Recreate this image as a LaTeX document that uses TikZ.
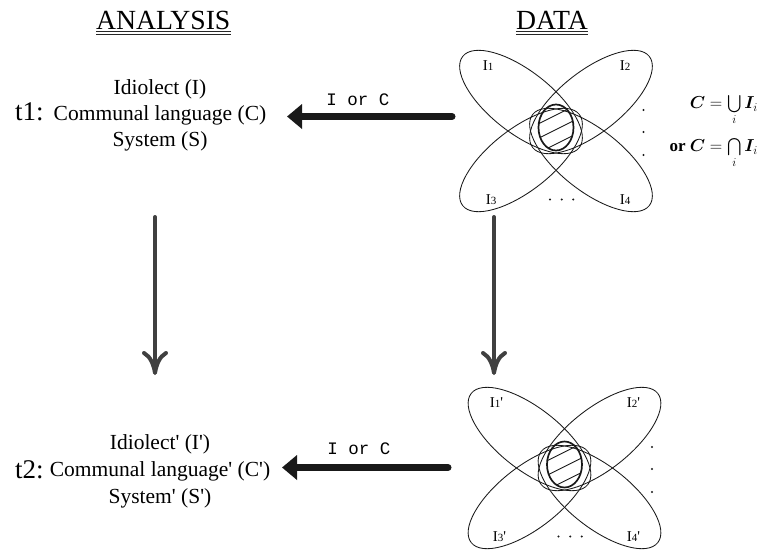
\documentclass[tikz,border=0pt]{standalone}
\usepackage{fontspec}
\setmainfont{Liberation Serif}
\setmonofont{Liberation Mono}
\usepackage{amsmath,bm}
\usetikzlibrary{arrows.meta}
\begin{document}
\begin{tikzpicture}[x=1pt,y=-1pt,
  hdr/.style={font=\fontsize{27.7}{30}\selectfont, inner sep=0pt, anchor=base},
  txt/.style={font=\fontsize{21.5}{26}\selectfont, inner sep=0pt, anchor=base},
  tlab/.style={font=\fontsize{27}{30}\selectfont, inner sep=0pt, anchor=base west},
  arrlab/.style={font=\ttfamily\fontsize{17.5}{20}\selectfont, inner sep=0pt, anchor=base},
  venn/.style={draw=black!90, line width=0.85pt},
  setlab/.style={font=\fontsize{15}{16}\selectfont, inner sep=0pt},
  hatchline/.style={draw=black!90, line width=0.9pt},
  hatchoval/.style={draw=black!90, line width=1.7pt},
  uline/.style={draw=black!85, line width=0.8pt},
  flowarrow/.style={draw=black!90, line width=7pt, line cap=round, -{Triangle[length=15pt,width=24pt]}},
  timearrow/.style={draw=black!75, line width=4pt, line cap=round, -{To[length=24pt,width=26pt,round]}},
  dotmark/.style={fill=black!90},
  formula/.style={font=\fontsize{17}{20}\selectfont, inner sep=0pt, anchor=base east}
]
\useasboundingbox (0,0) rectangle (761,550);

% headers
\node[hdr] (h1) at (163.3,29.3) {ANALYSIS};
\node[hdr] (h2) at (552,29.3) {DATA};
\draw[uline] ([yshift=-2.2pt]h1.base west) -- ([yshift=-2.2pt]h1.base east);
\draw[uline] ([yshift=-4.6pt]h1.base west) -- ([yshift=-4.6pt]h1.base east);
\draw[uline] ([yshift=-2.4pt]h2.base west) -- ([yshift=-2.4pt]h2.base east);
\draw[uline] ([yshift=-4.8pt]h2.base west) -- ([yshift=-4.8pt]h2.base east);

% t1 block
\node[txt] (t1I) at (160,94.3) {Idiolect (I)};
\node[txt] (t1C) at (160,120) {Communal language (C)};
\node[txt] (t1S) at (160,146.5) {System (S)};
\node[tlab] (t1) at (15,120) {t1:};

% t2 block
\node[txt] (t2I) at (160,449.3) {Idiolect\textquotesingle{} (I\textquotesingle)};
\node[txt] (t2C) at (160,476.7) {Communal language\textquotesingle{} (C\textquotesingle)};
\node[txt] (t2S) at (160,503.3) {System\textquotesingle{} (S\textquotesingle)};
\node[tlab] (t2) at (15,478) {t2:};

% horizontal arrows
\coordinate (hTs) at (452,116.5);
\coordinate (hTe) at (287,116.5);
\coordinate (hBs) at (448,467.5);
\coordinate (hBe) at (282,467.5);
\draw[flowarrow] (hTs) -- (hTe);
\draw[flowarrow] (hBs) -- (hBe);
\node[arrlab] (l1) at (358,105) {I or C};
\node[arrlab] (l2) at (359,454) {I or C};

% vertical arrows
\coordinate (vLs) at (155,217);
\coordinate (vLe) at (155,375);
\coordinate (vRs) at (494,217);
\coordinate (vRe) at (494,375);
\draw[timearrow] (vLs) -- (vLe);
\draw[timearrow] (vRs) -- (vRe);

% Venn diagrams
\foreach \dx/\dy/\p in {0/0/{}, 8.5/337/{\textquotesingle}}{
\begin{scope}[shift={(\dx,\dy)}]
  \draw[venn, rotate around={-38:(521,102)}] (521,102) ellipse [x radius=74pt, y radius=31pt];
  \draw[venn, rotate around={38:(591,102)}] (591,102) ellipse [x radius=74pt, y radius=31pt];
  \draw[venn, rotate around={38:(521,160)}] (521,160) ellipse [x radius=74pt, y radius=31pt];
  \draw[venn, rotate around={-38:(591,160)}] (591,160) ellipse [x radius=74pt, y radius=31pt];
  \begin{scope}
    \clip (556,127.5) ellipse [x radius=17.5pt, y radius=23pt];
    \foreach \k in {-1,0,1}
      \draw[hatchline] (530,{129.5+14.5*\k+13}) -- (582,{129.5+14.5*\k-13});
  \end{scope}
  \draw[hatchoval] (556,127.5) ellipse [x radius=17.5pt, y radius=23pt];
  \node[setlab] at (488,66) {I{\fontsize{11}{12}\selectfont 1}\p};
  \node[setlab] at (625,66) {I{\fontsize{11}{12}\selectfont 2}\p};
  \node[setlab] at (491,200) {I{\fontsize{11}{12}\selectfont 3}\p};
  \node[setlab] at (625,200) {I{\fontsize{11}{12}\selectfont 4}\p};
  \foreach \x in {550,561.7,573.3} \fill[dotmark] (\x,199.5) circle (1.1pt);
  \foreach \y in {110,132,155} \fill[dotmark] (643.5,\y) circle (1.1pt);
\end{scope}
}

% formulas
\node[formula] (f1) at (758,108.5) {$\bm{C}=\bigcup\limits_{i}\bm{I}_{i}$};
\node[formula] (f2) at (758,151.5) {\textbf{or} $\bm{C}=\bigcap\limits_{i}\bm{I}_{i}$};
\end{tikzpicture}
\end{document}
